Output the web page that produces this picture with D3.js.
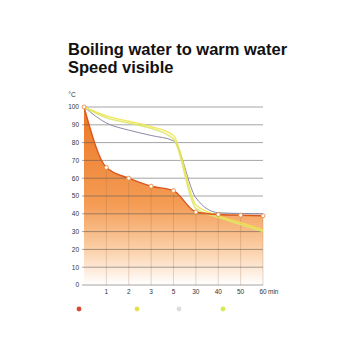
<!DOCTYPE html>
<html>
<head>
<meta charset="utf-8">
<script src="https://cdn.jsdelivr.net/npm/d3@7"></script>
<style>
  body { margin: 0; background: #fff; }
  svg { display: block; font-family: "Liberation Sans", Arial, sans-serif; }
</style>
</head>
<body>
<script>
// categories on the x axis (minutes)
const categories = ["0", "1", "2", "3", "5", "30", "40", "50", "60"];
const xTickLabels = ["", "1", "2", "3", "5", "30", "40", "50", "60"];
const yTicks = [0, 10, 20, 30, 40, 50, 60, 70, 80, 90, 100];

// temperatures
const fastCool   = [100, 66, 60, 55.5, 53, 41, 39.6, 39.2, 38.9];
const yellowCool = [100, 95, 92, 89, 84, 45, 39, 35, 31];
const greyCool   = [100, 91, 87, 84, 81, 49, 40.6, 40.2, 40];
const greenCool  = [100, 94, 91, 88, 82, 43, 38, 34, 30];

const legendColors = ["#d54a2e", "#e6e04a", "#dcdcdc", "#d6e956"];

const W = 340, H = 340;
const svg = d3.select("body").append("svg").attr("width", W).attr("height", H);

// title
svg.append("text").attr("x", 68).attr("y", 55)
  .attr("font-size", 16.5).attr("font-weight", "bold").attr("fill", "#111")
  .text("Boiling water to warm water");
svg.append("text").attr("x", 68).attr("y", 73)
  .attr("font-size", 16.5).attr("font-weight", "bold").attr("fill", "#111")
  .text("Speed visible");

const x = d3.scalePoint().domain(categories).range([84, 263]);
const y = d3.scaleLinear().domain([0, 100]).range([285, 107]);

// fill gradient
const defs = svg.append("defs");
const grad = defs.append("linearGradient").attr("id", "fade")
  .attr("gradientUnits", "userSpaceOnUse")
  .attr("x1", 0).attr("x2", 0).attr("y1", y(100)).attr("y2", y(0));
grad.append("stop").attr("offset", 0).attr("stop-color", "#ec7624");
grad.append("stop").attr("offset", 0.55).attr("stop-color", "#f49c55");
grad.append("stop").attr("offset", 0.8).attr("stop-color", "#fbd0a8");
grad.append("stop").attr("offset", 1).attr("stop-color", "#ffffff");

const pts = arr => arr.map((v, i) => [categories[i], v]);

const area = d3.area()
  .x(d => x(d[0])).y0(y(0)).y1(d => y(d[1]))
  .curve(d3.curveMonotoneX);
const line = d3.line()
  .x(d => x(d[0])).y(d => y(d[1]))
  .curve(d3.curveMonotoneX);

svg.append("path").attr("d", area(pts(fastCool))).attr("fill", "url(#fade)");

// vertical grid only under the orange curve
svg.selectAll(".vgrid").data(categories.slice(1)).enter().append("line")
  .attr("x1", d => x(d)).attr("x2", d => x(d))
  .attr("y1", y(0)).attr("y2", (d, i) => y(fastCool[i + 1]))
  .attr("stroke", "#a07050").attr("stroke-opacity", 0.35).attr("stroke-width", 0.8);

// horizontal grid
svg.selectAll(".hgrid").data(yTicks).enter().append("line")
  .attr("x1", 82).attr("x2", 263)
  .attr("y1", d => y(d)).attr("y2", d => y(d))
  .attr("stroke", "#555").attr("stroke-opacity", 0.6).attr("stroke-width", 0.9);

// y labels
svg.selectAll(".ylab").data(yTicks).enter().append("text")
  .attr("x", 79).attr("y", d => y(d) + 2.3)
  .attr("text-anchor", "end").attr("font-size", 6.5).attr("fill", "#333")
  .text(d => d);
svg.append("text").attr("x", 72).attr("y", 97).attr("text-anchor", "middle")
  .attr("font-size", 6.5).attr("fill", "#333").text("°C");

// x labels
svg.selectAll(".xlab").data(categories).enter().append("text")
  .attr("x", d => x(d)).attr("y", 294)
  .attr("text-anchor", "middle").attr("font-size", 6.5).attr("fill", "#333")
  .text((d, i) => xTickLabels[i]);
svg.append("text").attr("x", 268).attr("y", 294)
  .attr("font-size", 6.5).attr("fill", "#333").text("min");

// other series
svg.append("path").attr("d", line(pts(greyCool)))
  .attr("fill", "none").attr("stroke", "#8d8aa6").attr("stroke-width", 1);
svg.append("path").attr("d", line(pts(greenCool)))
  .attr("fill", "none").attr("stroke", "#dde86a").attr("stroke-width", 1.6).attr("stroke-opacity", 0.9);
svg.append("path").attr("d", line(pts(yellowCool)))
  .attr("fill", "none").attr("stroke", "#f0e34a").attr("stroke-width", 1.4).attr("stroke-opacity", 0.9);

// orange series
svg.append("path").attr("d", line(pts(fastCool)))
  .attr("fill", "none").attr("stroke", "#d9561c").attr("stroke-width", 1.4);
svg.selectAll(".dot").data(pts(fastCool)).enter().append("circle")
  .attr("cx", d => x(d[0])).attr("cy", d => y(d[1])).attr("r", 2)
  .attr("fill", "#fff").attr("stroke", "#e98a3e").attr("stroke-width", 0.9);

// legend dots
const legendX = [79, 137, 179, 223];
svg.selectAll(".leg").data(legendColors).enter().append("circle")
  .attr("cx", (d, i) => legendX[i]).attr("cy", 309).attr("r", 2.4)
  .attr("fill", d => d);
</script>
</body>
</html>
